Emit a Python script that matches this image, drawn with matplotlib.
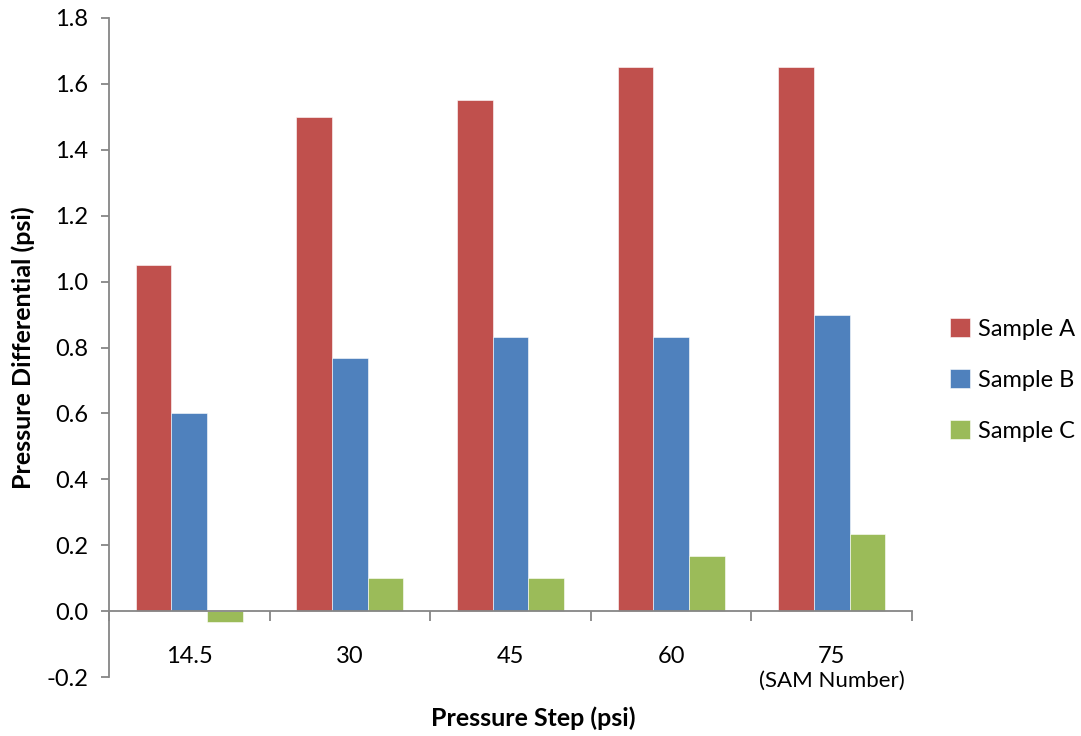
import matplotlib
matplotlib.use("Agg")
import matplotlib.pyplot as plt
import numpy as np

categories = ["14.5", "30", "45", "60", "75"]
sample_a = [1.05, 1.50, 1.55, 1.65, 1.65]
sample_b = [0.60, 0.767, 0.833, 0.833, 0.90]
sample_c = [-0.033, 0.10, 0.10, 0.167, 0.233]
series_names = ["Sample A", "Sample B", "Sample C"]
colors = ["#C0504D", "#4F81BD", "#9BBB59"]
yticks = [-0.2, 0.0, 0.2, 0.4, 0.6, 0.8, 1.0, 1.2, 1.4, 1.6, 1.8]

plt.rcParams['font.family'] = ['Lato', 'DejaVu Sans']

fig = plt.figure(figsize=(10.81, 7.36), dpi=100)
ax = fig.add_axes([109/1081, 1-677/736, (912-109)/1081, (677-18)/736])

x = np.arange(len(categories))
w = 1/4.5
for i, (vals, name, c) in enumerate(zip([sample_a, sample_b, sample_c], series_names, colors)):
    ax.bar(x + (i-1)*w, vals, width=w, color=c, label=name, edgecolor='white', linewidth=0.4, zorder=2)

ax.set_xlim(-0.5, len(categories)-0.5)
ax.set_ylim(-0.2, 1.8)
ax.set_yticks(yticks)
ax.set_yticklabels([f"{v:.1f}" for v in yticks])

gray = "#868686"
for s in ['top', 'right']:
    ax.spines[s].set_visible(False)
ax.spines['bottom'].set_position(('data', 0))
ax.spines['bottom'].set_color(gray)
ax.spines['bottom'].set_linewidth(1.3)
ax.spines['left'].set_color(gray)
ax.spines['left'].set_linewidth(1.3)
ax.spines['bottom'].set_zorder(3)

ax.set_xticks(np.arange(len(categories)+1) - 0.5)
ax.set_xticklabels([])
ax.set_xticks(x, minor=True)
ax.set_xticklabels(categories, minor=True)
ax.tick_params(axis='x', which='major', length=7, color=gray, width=1.3, direction='out')
ax.tick_params(axis='x', which='minor', length=0, pad=25, labelsize=17)
ax.tick_params(axis='y', length=6, color=gray, width=1.3, labelsize=17, pad=9)

ax.text(x[-1], -0.212, "(SAM Number)", ha='center', va='center', fontsize=16)

ax.set_ylabel("Pressure Differential (psi)", fontsize=18, fontweight='bold', labelpad=8)
fig.text(533/1081, 1-718/736, "Pressure Step (psi)", ha='center', va='center', fontsize=18, fontweight='bold')

leg = ax.legend(loc='center left', bbox_to_anchor=(950/1081, 1-380/736), bbox_transform=fig.transFigure,
                frameon=False, fontsize=17, handlelength=0.85, handleheight=0.85, labelspacing=1.25,
                handletextpad=0.35, borderpad=0, borderaxespad=0)

fig.savefig("out.png", dpi=100)
